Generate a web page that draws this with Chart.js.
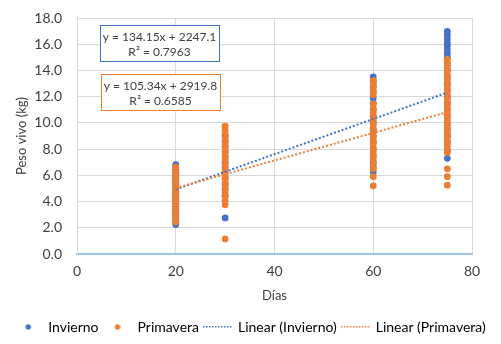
<!DOCTYPE html>
<html>
<head>
<meta charset="utf-8">
<script src="https://cdn.jsdelivr.net/npm/chart.js@4.4.1/dist/chart.umd.min.js"></script>
<style>
html,body{margin:0;padding:0;background:#fff;}
#wrap{width:501px;height:344px;position:relative;}
</style>
</head>
<body>
<div id="wrap"><canvas id="mycanvas"></canvas></div>
<script>
// dias de muestreo y peso vivo (kg)
var dias = [20, 30, 60, 75];
var invierno20 = [2.25, 2.5, 2.77, 3.0, 3.2, 3.4, 3.6, 3.8, 4.0, 4.2, 4.4, 4.6, 4.8, 5.0, 5.2, 5.4, 5.6, 5.8, 6.0, 6.2, 6.4, 6.6, 6.82];
var invierno30 = [2.75, 4.45, 4.95, 5.3, 5.8, 6.2, 6.6, 7.0, 7.4, 7.8, 8.2, 8.6, 9.0];
var invierno60 = [6.25, 6.6, 7.0, 7.5, 8.0, 8.5, 9.0, 9.5, 10.0, 10.5, 11.0, 11.5, 11.9, 12.4, 12.8, 13.2, 13.5];
var invierno75 = [7.3, 7.9, 8.5, 9.0, 9.5, 10.0, 10.5, 11.0, 11.5, 12.0, 12.5, 13.0, 13.5, 14.0, 14.5, 15.0, 15.3, 15.6, 15.9, 16.1, 16.4, 16.7, 16.98];
var primavera20 = [2.45, 2.7, 2.9, 3.1, 3.3, 3.5, 3.7, 3.9, 4.1, 4.3, 4.5, 4.7, 4.9, 5.1, 5.3, 5.5, 5.7, 5.9, 6.1, 6.3, 6.5, 6.62];
var primavera30 = [1.15, 3.75, 4.05, 4.4, 4.7, 5.1, 5.4, 5.7, 6.0, 6.3, 6.6, 6.9, 7.2, 7.5, 7.8, 8.1, 8.4, 8.7, 9.0, 9.15, 9.45, 9.75];
var primavera60 = [5.2, 5.9, 6.5, 6.8, 7.2, 7.5, 7.8, 8.1, 8.4, 8.7, 9.0, 9.3, 9.6, 9.9, 10.2, 10.5, 10.8, 11.1, 11.45, 12.15, 12.4, 12.7, 13.0, 13.25];
var primavera75 = [5.25, 5.9, 6.5, 7.75, 8.0, 8.3, 8.6, 8.9, 9.2, 9.5, 9.8, 10.1, 10.4, 10.7, 11.0, 11.3, 11.6, 11.9, 12.2, 12.5, 12.8, 13.1, 13.4, 13.7, 14.0, 14.3, 14.6, 14.85];
// lineas de tendencia (extremos)
var trendX = [20, 75];
var linInvierno = [4.93, 12.31];
var linPrimavera = [5.03, 10.82];
var eqInvierno = ["y = 134.15x + 2247.1", "R² = 0.7963"];
var eqPrimavera = ["y = 105.34x + 2919.8", "R² = 0.6585"];

var azul = '#4472C4';
var naranja = '#ED7D31';

function puntos(listas){
	var out = [];
	for (var i in listas) {
		for (var j in listas[i]) {
			out.push({x: dias[i], y: listas[i][j]});
		}
	}
	return out;
}
function linea(ys){
	return [{x: trendX[0], y: ys[0]}, {x: trendX[1], y: ys[1]}];
}

// simbolos de la leyenda
function punto(color){
	var c = document.createElement('canvas');
	c.width = 8; c.height = 8;
	var g = c.getContext('2d');
	g.fillStyle = color;
	g.beginPath(); g.arc(4, 4, 2.7, 0, Math.PI * 2); g.fill();
	return c;
}
function trazo(color){
	var c = document.createElement('canvas');
	c.width = 30; c.height = 2;
	var g = c.getContext('2d');
	g.fillStyle = color;
	for (var x = 0; x < 30; x += 3) g.fillRect(x, 0, 1.5, 1.5);
	return c;
}

// cajas con las ecuaciones
var cajas = {
	id: 'cajas',
	afterDatasetsDraw: function(chart){
		var ctx = chart.ctx;
		var a = chart.chartArea;
		var items = [
			{txt: eqInvierno, color: azul, x: a.left + 23, y: a.top + 7},
			{txt: eqPrimavera, color: naranja, x: a.left + 24, y: a.top + 56}
		];
		ctx.save();
		items.forEach(function(it){
			var w = 119, h = 36;
			ctx.fillStyle = '#fff';
			ctx.fillRect(it.x, it.y, w, h);
			ctx.strokeStyle = it.color;
			ctx.lineWidth = 1;
			ctx.strokeRect(it.x + 0.5, it.y + 0.5, w, h);
			ctx.fillStyle = '#404040';
			ctx.font = '12px Lato';
			ctx.textAlign = 'center';
			ctx.textBaseline = 'middle';
			ctx.fillText(it.txt[0], it.x + w / 2, it.y + 12);
			ctx.fillText(it.txt[1], it.x + w / 2, it.y + 27);
		});
		ctx.restore();
	}
};

Chart.defaults.font.family = 'Lato';
Chart.defaults.font.size = 14;
Chart.defaults.color = '#404040';

var ctx = document.getElementById('mycanvas');
var chart = new Chart(ctx, {
	type: 'scatter',
	data: {
		datasets: [
			{label: 'Invierno', data: puntos([invierno20, invierno30, invierno60, invierno75]),
				backgroundColor: azul, borderWidth: 0, pointRadius: 3.4, order: 3},
			{label: 'Primavera', data: puntos([primavera20, primavera30, primavera60, primavera75]),
				backgroundColor: naranja, borderWidth: 0, pointRadius: 3.4, order: 2},
			{label: 'Linear (Invierno)', type: 'line', data: linea(linInvierno), showLine: true,
				borderColor: azul, borderWidth: 2, borderDash: [2, 2], pointRadius: 0, fill: false, order: 1},
			{label: 'Linear (Primavera)', type: 'line', data: linea(linPrimavera), showLine: true,
				borderColor: naranja, borderWidth: 2, borderDash: [2, 2], pointRadius: 0, fill: false, order: 0}
		]
	},
	options: {
		responsive: true,
		maintainAspectRatio: false,
		animation: false,
		layout: {padding: {left: 0, right: 0, top: 18, bottom: 0}},
		plugins: {
			tooltip: {enabled: false},
			legend: {
				position: 'bottom',
				labels: {
					usePointStyle: true,
					pointStyleWidth: 26,
					boxHeight: 8,
					padding: 6,
					color: '#404040',
					generateLabels: function(chart){
						var ds = chart.data.datasets;
						return ds.map(function(d, i){
							var esLinea = i > 1;
							return {
								text: d.label,
								datasetIndex: i,
								fillStyle: esLinea ? d.borderColor : d.backgroundColor,
								strokeStyle: esLinea ? d.borderColor : d.backgroundColor,
								lineWidth: 0,
								pointStyle: esLinea ? trazo(d.borderColor) : punto(d.backgroundColor),
								hidden: false
							};
						});
					}
				}
			}
		},
		scales: {
			x: {
				type: 'linear',
				min: 0, max: 80,
				ticks: {stepSize: 20, padding: 10, font: {lineHeight: 1.0}},
				grid: {color: '#d9d9d9', drawTicks: false},
				border: {color: '#9DC3E6', width: 2},
				title: {display: true, text: 'Días', color: '#404040', font: {size: 13, lineHeight: 1.0}, padding: {top: 1, bottom: 12}}
			},
			y: {
				min: 0, max: 18,
				ticks: {stepSize: 2, padding: 15, callback: function(v){ return v.toFixed(1); }},
				grid: {color: '#d9d9d9', drawTicks: false},
				border: {color: '#d9d9d9'},
				title: {display: true, text: 'Peso vivo (kg)', color: '#404040', font: {size: 13}, padding: {top: 14, bottom: 0}},
				afterFit: function(s){ s.width = 77; s.paddingTop = 0; s.paddingBottom = 0; }
			},
			margen: {
				position: 'right',
				ticks: {display: false},
				grid: {display: false},
				border: {display: false},
				afterFit: function(s){ s.width = 29; s.paddingTop = 0; s.paddingBottom = 0; }
			}
		}
	},
	plugins: [cajas]
});
</script>
</body>
</html>
